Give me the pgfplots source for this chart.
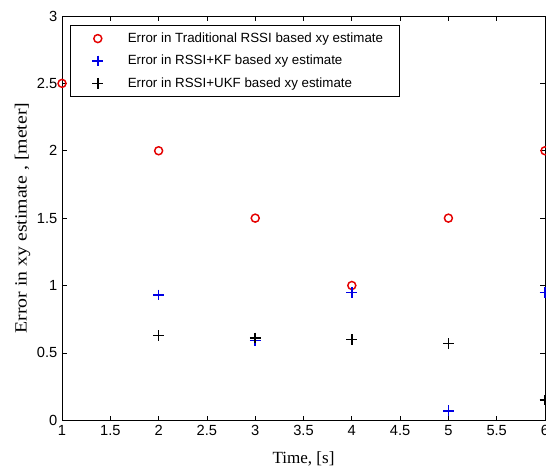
\documentclass[border=0pt]{standalone}
\usepackage{fontspec}
\setmainfont{Liberation Sans}
\newfontfamily\labelfont{Liberation Serif}
\usepackage{graphicx}
\usepackage{pgfplots}
\pgfplotsset{compat=1.18}
\pgfplotsset{
    wide mark legend/.style={legend image code/.code={%
        \path (0cm,0cm) (1.05cm,0cm);
        \draw[mark repeat=2,mark phase=2,##1] plot coordinates {(0cm,0cm) (0.35cm,0cm) (1.05cm,0cm)};}},
}
\begin{document}
\begin{tikzpicture}
\begin{axis}[
    name=ax,
    scale only axis,
    width=362pt, height=303pt,
    xmin=1, xmax=6, ymin=0, ymax=3,
    xtick={1,1.5,...,6}, ytick={0,0.5,...,3},
    tick align=inside,
    major tick length=3.5pt,
    axis line style={line width=0.6pt},
    every tick/.style={black, line width=0.5pt},
    /pgf/number format/assume math mode=true,
    tick label style={font=\fontsize{11}{13}\selectfont},
    xticklabel style={overlay},
    xlabel={\labelfont\fontsize{12.8}{14}\selectfont Time, [s]},
    ylabel={\scalebox{1.16}[1]{\labelfont\fontsize{12.8}{14}\selectfont Error in xy estimate , [meter]}},
    xlabel style={yshift=-5pt},
    ylabel style={yshift=-2pt},
    clip=false,
    legend style={at={(0,1)}, anchor=north west, xshift=6pt, yshift=-6.75pt,
        font=\fontsize{10}{12}\selectfont, draw=black, line width=0.6pt,
        row sep=4pt, inner xsep=10pt, inner ysep=3.5pt},
    legend cell align=left,
]
\addplot[only marks, wide mark legend, mark=o, mark size=3pt, red!90!black, line width=1.1pt] coordinates {
    (1,2.5) (2,2.0) (3,1.5) (4,1.0) (5,1.5) (6,2.0)
};
\addplot[only marks, wide mark legend, mark=+, mark size=4pt, blue!90!black, line width=1.1pt] coordinates {
    (2,0.93) (3,0.59) (4,0.95) (5,0.07) (6,0.95)
};
\addplot[only marks, wide mark legend, mark=+, mark size=4pt, black, line width=1.1pt] coordinates {
    (2,0.63) (3,0.61) (4,0.60) (5,0.57) (6,0.15)
};
\legend{Error in Traditional RSSI based xy estimate, Error in RSSI+KF based xy estimate, Error in RSSI+UKF based xy estimate}
\end{axis}
\pgfresetboundingbox
\path ([xshift=-46.5pt,yshift=-38.25pt]ax.south west) rectangle ([xshift=0.75pt,yshift=12pt]ax.north east);
\end{tikzpicture}
\end{document}
